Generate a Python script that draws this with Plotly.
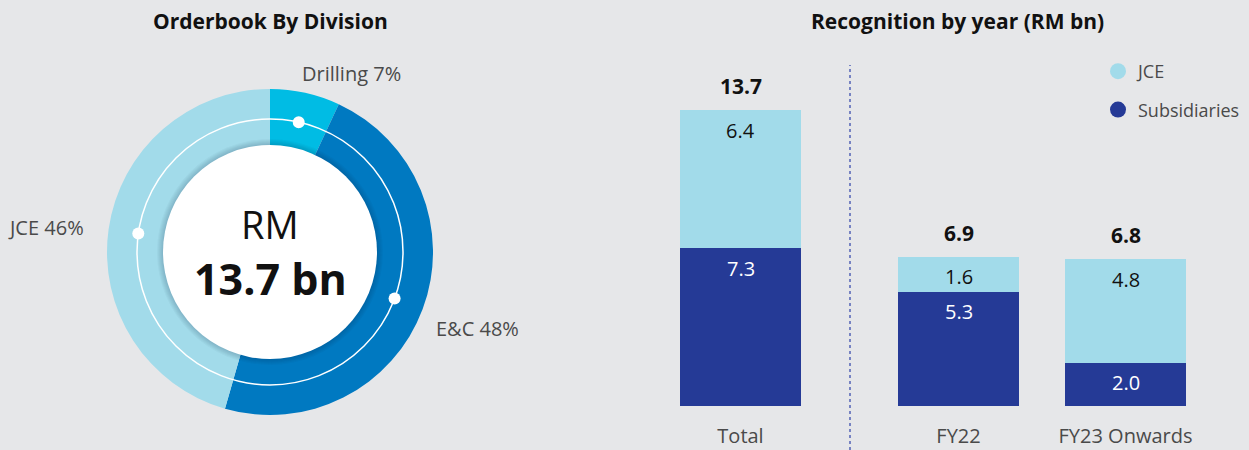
import math
import plotly.graph_objects as go

# ---------------- data ----------------
divisions = ["Drilling", "E&C", "JCE"]
division_pct = [7, 48, 46]
division_colors = ["#00bce4", "#0079c1", "#a2dbea"]
orderbook_total = "13.7"

categories = ["Total", "FY22", "FY23 Onwards"]
jce = [6.4, 1.6, 4.8]
subsidiaries = [7.3, 5.3, 2.0]
totals = [13.7, 6.9, 6.8]
series_names = ["JCE", "Subsidiaries"]
series_colors = ["#a2dbea", "#253a96"]

# ---------------- layout helpers ----------------
W, H = 1249, 450
BG = "#e6e7e9"
FONT = "Open Sans"
TXT = "#4a4a4a"


def px(x):
    return x / W


def py(y):
    return 1 - y / H


def note(x, y, text, size, color, xanchor="center", **kw):
    return dict(x=px(x), y=py(y), xref="paper", yref="paper", text=text,
                xanchor=xanchor, yanchor="middle", showarrow=False,
                font=dict(family=FONT, size=size, color=color), **kw)


fig = go.Figure()

# ---------------- donut ----------------
cx, cy, R = 270, 252, 163
fig.add_trace(go.Pie(
    labels=divisions, values=division_pct, sort=False, direction="clockwise",
    rotation=0, hole=0.6, textinfo="none", hoverinfo="label+percent",
    marker=dict(colors=division_colors, line=dict(width=0)),
    domain=dict(x=[px(cx - R), px(cx + R)], y=[py(cy + R), py(cy - R)]),
    showlegend=False,
))

shapes = []
# soft shadow of the inner disc
r_in = 107
for k in range(6, 0, -1):
    shapes.append(dict(type="circle", xref="paper", yref="paper",
                       x0=px(cx - r_in - k), x1=px(cx + r_in + k),
                       y0=py(cy + r_in + k), y1=py(cy - r_in - k),
                       fillcolor="rgba(0,20,60,0.03)", line=dict(width=0), layer="above"))
shapes.append(dict(type="circle", xref="paper", yref="paper",
                   x0=px(cx - r_in), x1=px(cx + r_in), y0=py(cy + r_in), y1=py(cy - r_in),
                   fillcolor="white", line=dict(width=0), layer="above"))
# thin white guide ring
r_ring = 133
shapes.append(dict(type="circle", xref="paper", yref="paper",
                   x0=px(cx - r_ring), x1=px(cx + r_ring), y0=py(cy + r_ring), y1=py(cy - r_ring),
                   line=dict(color="white", width=1.5), fillcolor="rgba(0,0,0,0)", layer="above"))
# white dots at slice midpoints
tot = sum(division_pct)
cum = 0
for v in division_pct:
    mid = (cum + v / 2) / tot * 2 * math.pi
    cum += v
    dx, dy = cx + r_ring * math.sin(mid), cy - r_ring * math.cos(mid)
    rd = 6
    shapes.append(dict(type="circle", xref="paper", yref="paper",
                       x0=px(dx - rd), x1=px(dx + rd), y0=py(dy + rd), y1=py(dy - rd),
                       fillcolor="white", line=dict(width=0), layer="above"))

annotations = []
# centre text
annotations.append(note(cx, 224, "RM", 38, "#111"))
annotations.append(note(cx, 278, f"<b>{orderbook_total} bn</b>", 43, "#111"))
# slice labels
label_pos = [(351, 73, "center"), (434, 328, "left"), (86, 227, "right")]
for (lx, ly, anc), name, v in zip(label_pos, divisions, division_pct):
    annotations.append(note(lx, ly, f"{name} {v}%", 20, TXT, xanchor=anc))

# titles
annotations.append(note(270, 21, "<b>Orderbook By Division</b>", 21, "#111"))
annotations.append(note(957, 21, "<b>Recognition by year (RM bn)</b>", 21, "#111"))

# ---------------- bars ----------------
groups = [("x", "y", slice(0, 1)), ("x2", "y2", slice(1, 3))]
for xa, ya, sl in groups:
    cats = categories[sl]
    fig.add_trace(go.Bar(x=cats, y=subsidiaries[sl], name=series_names[1],
                         marker=dict(color=series_colors[1], line=dict(width=0)),
                         xaxis=xa, yaxis=ya, showlegend=False))
    fig.add_trace(go.Bar(x=cats, y=jce[sl], name=series_names[0],
                         marker=dict(color=series_colors[0], line=dict(width=0)),
                         xaxis=xa, yaxis=ya, showlegend=False))
    for c, s, j, t in zip(cats, subsidiaries[sl], jce[sl], totals[sl]):
        annotations.append(dict(x=c, y=s, xref=xa, yref=ya, text=f"{s:.1f}", showarrow=False,
                                yanchor="middle", yshift=-20,
                                font=dict(family=FONT, size=20, color="white")))
        annotations.append(dict(x=c, y=s + j, xref=xa, yref=ya, text=f"{j:.1f}", showarrow=False,
                                yanchor="middle", yshift=-20,
                                font=dict(family=FONT, size=20, color="#111")))
        annotations.append(dict(x=c, y=s + j, xref=xa, yref=ya, text=f"<b>{t:.1f}</b>",
                                showarrow=False, yanchor="middle", yshift=24,
                                font=dict(family=FONT, size=21, color="#111")))

# legend entries (circle markers)
for n, col in zip(series_names, series_colors):
    fig.add_trace(go.Scatter(x=[None], y=[None], mode="markers", name=n,
                             marker=dict(color=col, size=20, symbol="circle"),
                             xaxis="x2", yaxis="y2", legendgroup=n, showlegend=True))

# divider line
shapes.append(dict(type="line", xref="paper", yref="paper", x0=px(850), x1=px(850),
                   y0=py(450), y1=py(65), line=dict(color="#5363b5", width=1.5, dash="dot")))

bar_w, step = 121, 167
c_total, c_years = 740.5, 1042
ydom = [py(406), py(406 - 16 * 21.6)]
axis_common = dict(showgrid=False, zeroline=False, showline=False, ticks="",
                   tickfont=dict(family=FONT, size=20, color=TXT), ticklabelstandoff=16,
                   fixedrange=True)
fig.update_layout(
    width=W, height=H, margin=dict(l=0, r=0, t=0, b=0),
    paper_bgcolor=BG, plot_bgcolor=BG,
    barmode="stack", bargap=1 - bar_w / step,
    font=dict(family=FONT),
    xaxis=dict(domain=[px(c_total - step / 2), px(c_total + step / 2)], anchor="y", **axis_common),
    xaxis2=dict(domain=[px(c_years - step), px(c_years + step)], anchor="y2", **axis_common),
    yaxis=dict(domain=ydom, range=[0, 16], visible=False, fixedrange=True),
    yaxis2=dict(domain=ydom, range=[0, 16], visible=False, anchor="x2", fixedrange=True),
    legend=dict(x=px(1098), y=py(53), xanchor="left", yanchor="top",
                font=dict(family=FONT, size=18, color=TXT), bgcolor="rgba(0,0,0,0)",
                tracegroupgap=12, itemsizing="trace"),
    shapes=shapes, annotations=annotations,
)

fig.write_html("out.html", config={"displayModeBar": False},
               post_script="document.body.style.margin='0';")
